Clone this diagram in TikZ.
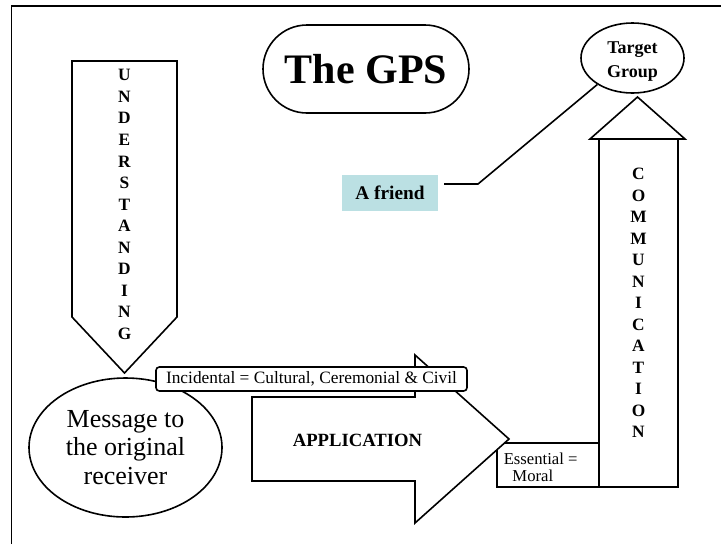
\documentclass[tikz,border=0pt]{standalone}
\usepackage{fontspec}
\setmainfont{Liberation Serif}
\usetikzlibrary{shapes.geometric}
\definecolor{friendblue}{HTML}{BBE0E3}
\begin{document}
\begin{tikzpicture}[x=0.75pt,y=-0.75pt,line width=1.2pt,line join=miter,
  outl/.style={draw=black,fill=white},
  vlet/.style={font=\bfseries\fontsize{13}{16.15}\selectfont,align=center,inner sep=0pt},
]
\useasboundingbox (0,0) rectangle (721,544);
\fill[white] (0,0) rectangle (721,544);
% frame (left and top only)
\draw (11.5,544) -- (11.5,6) -- (721,6);

% UNDERSTANDING down arrow
\draw[outl] (72,61) -- (177,61) -- (177,317) -- (124.5,373) -- (72,317) -- cycle;
\node[vlet] (und) at (124.5,204.5) {U\\N\\D\\E\\R\\S\\T\\A\\N\\D\\I\\N\\G};

% COMMUNICATION up arrow
\draw[outl] (599,139) rectangle (678,487);
\draw[outl] (590,139) -- (637.5,97) -- (685,139) -- cycle;
\node[vlet] (com) at (638.5,303) {C\\O\\M\\M\\U\\N\\I\\C\\A\\T\\I\\O\\N};

% Essential box
\draw[outl] (497,443) rectangle (599,487);
\node[anchor=north west,align=left,inner sep=0pt,font=\fontsize{12.5}{12.5}\selectfont] (ess) at (503,452)
  {Essential =\\\hspace*{6.5pt}Moral};

% APPLICATION right arrow
\draw[outl] (252,397) -- (415,397) -- (415,355) -- (509,439) -- (415,523) -- (415,481) -- (252,481) -- cycle;
\node[font=\bfseries\fontsize{14}{16}\selectfont,inner sep=0pt] (app) at (357.5,440) {APPLICATION};

% Message ellipse
\node[outl,ellipse,minimum width=144.75pt,minimum height=104.25pt,inner sep=0pt,align=center,
  font=\fontsize{19.5}{21.4}\selectfont] (msg) at (125.5,447.5)
  {Message to\\the original\\receiver};

% Incidental label
\node[outl,rounded corners=2.5pt,minimum width=233.25pt,minimum height=18pt,inner sep=0pt,
  font=\fontsize{13}{13}\selectfont] (inc) at (311.5,379) {Incidental = Cultural, Ceremonial \& Civil};

% Title
\node[outl,rounded corners=33pt,minimum width=154.5pt,minimum height=66pt,inner sep=0pt,
  font=\bfseries\fontsize{31.5}{34}\selectfont] (title) at (366,69) {The GPS};

% Target Group
\node[outl,ellipse,minimum width=77.25pt,minimum height=52.5pt,inner sep=0pt] (target) at (632.5,58) {};
\node[align=center,inner sep=0pt,font=\bfseries\fontsize{13.5}{18}\selectfont] (tgtext) at (632.5,62) {Target\\Group};

% A friend
\node[fill=friendblue,minimum width=72pt,minimum height=27pt,inner sep=0pt,
  font=\bfseries\fontsize{14.5}{15}\selectfont] (friend) at (390,193) {A friend};
\coordinate (fr) at (444,184);
\coordinate (bend) at (478,184);
\draw (target.217) -- (bend) -- (fr);
\end{tikzpicture}
\end{document}
